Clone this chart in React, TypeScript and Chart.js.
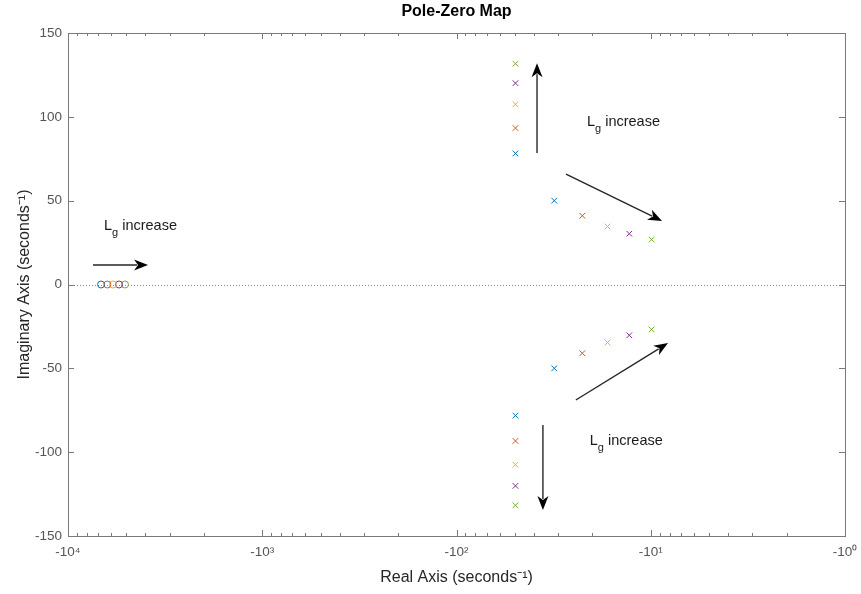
import React, { useEffect, useRef } from 'react';
import { Chart, registerables } from 'chart.js';

Chart.register(...registerables);

// ---- data ----
const seriesLabels = ['Lg 1', 'Lg 2', 'Lg 3', 'Lg 4', 'Lg 5'];
const seriesColors = ['#0072BD', '#D95319', '#EDB120', '#7E2F8E', '#77AC30'];
const verticalPoleRe = [-49.7, -49.7, -49.7, -49.7, -49.7];
const verticalPoleIm = [78.2, 93.3, 107.5, 120.1, 131.7];
const branchPoleRe = [-31.4, -22.5, -16.7, -12.9, -9.9];
const branchPoleIm = [50, 41, 34.6, 30.3, 26.8];
const zeroRe = [-6760, -6270, -5870, -5460, -5090];

const xTickExponents = [4, 3, 2, 1, 0];
const yTickValues = [-150, -100, -50, 0, 50, 100, 150];

// annotation arrows (real, imag)
const arrowFromRe = [-38.5, -27.3, -24.3, -35.9, -7436];
const arrowFromIm = [78.5, 65.9, -68.9, -83.8, 11.6];
const arrowToRe = [-38.5, -8.75, -8.15, -35.9, -3873];
const arrowToIm = [132, 37.9, -34.9, -134.5, 11.6];

// annotation texts (left edge, vertical centre)
const noteRe = [-21.3, -6530, -20.6];
const noteIm = [96.9, 34.9, -93.3];
const noteMain = 'L';
const noteSub = 'g';
const noteRest = ' increase';

const titleText = 'Pole-Zero Map';
const xTitle = 'Real Axis (seconds\u207B\u00B9)';
const yTitle = 'Imaginary Axis (seconds\u207B\u00B9)';

const SUP: Record<string, string> = { '0': '\u2070', '1': '\u00B9', '2': '\u00B2', '3': '\u00B3', '4': '\u2074' };
const toX = (re: number) => -Math.log10(-re);

const FONT = "'Liberation Sans', Arial, sans-serif";

const decorPlugin = {
  id: 'matlabDecor',
  beforeDatasetsDraw(chart: any) {
    const { ctx, chartArea, scales } = chart;
    const y0 = scales.y.getPixelForValue(0);
    ctx.save();
    ctx.strokeStyle = '#8a8a8a';
    ctx.lineWidth = 1;
    ctx.setLineDash([1, 2]);
    ctx.beginPath();
    ctx.moveTo(chartArea.left, Math.round(y0) + 0.5);
    ctx.lineTo(chartArea.right, Math.round(y0) + 0.5);
    ctx.stroke();
    ctx.restore();
  },
  afterDatasetsDraw(chart: any) {
    const { ctx, chartArea, scales } = chart;
    const { left, right, top, bottom } = chartArea;
    const xs = scales.x;
    const ys = scales.y;
    ctx.save();
    ctx.strokeStyle = '#7a7a7a';
    ctx.lineWidth = 1;
    ctx.strokeRect(Math.round(left) + 0.5, Math.round(top) + 0.5, Math.round(right - left), Math.round(bottom - top));
    ctx.beginPath();
    for (let i = 0; i < xTickExponents.length; i++) {
      const e = xTickExponents[i];
      const px = Math.round(xs.getPixelForValue(-e)) + 0.5;
      ctx.moveTo(px, bottom); ctx.lineTo(px, bottom - 6);
      ctx.moveTo(px, top); ctx.lineTo(px, top + 6);
      if (e > 0) {
        for (let k = 2; k <= 9; k++) {
          const v = -(e - 1 + Math.log10(k));
          const mx = Math.round(xs.getPixelForValue(v)) + 0.5;
          ctx.moveTo(mx, bottom); ctx.lineTo(mx, bottom - 3);
          ctx.moveTo(mx, top); ctx.lineTo(mx, top + 3);
        }
      }
    }
    for (const v of yTickValues) {
      const py = Math.round(ys.getPixelForValue(v)) + 0.5;
      ctx.moveTo(left, py); ctx.lineTo(left + 6, py);
      ctx.moveTo(right, py); ctx.lineTo(right - 6, py);
    }
    ctx.stroke();
    ctx.restore();
  },
  afterDraw(chart: any) {
    const { ctx, scales } = chart;
    const xs = scales.x;
    const ys = scales.y;
    ctx.save();
    for (let i = 0; i < arrowFromRe.length; i++) {
      const x1 = xs.getPixelForValue(toX(arrowFromRe[i]));
      const y1 = ys.getPixelForValue(arrowFromIm[i]);
      const x2 = xs.getPixelForValue(toX(arrowToRe[i]));
      const y2 = ys.getPixelForValue(arrowToIm[i]);
      const ang = Math.atan2(y2 - y1, x2 - x1);
      const hl = 14;
      const hw = 5.5;
      const cx = Math.cos(ang), sy = Math.sin(ang);
      const bx = x2 - cx * (hl - 3);
      const by = y2 - sy * (hl - 3);
      ctx.strokeStyle = '#262626';
      ctx.lineWidth = 1.4;
      ctx.beginPath();
      ctx.moveTo(x1, y1);
      ctx.lineTo(bx, by);
      ctx.stroke();
      const backX = x2 - cx * hl, backY = y2 - sy * hl;
      ctx.fillStyle = '#000000';
      ctx.beginPath();
      ctx.moveTo(x2, y2);
      ctx.lineTo(backX - sy * hw, backY + cx * hw);
      ctx.lineTo(x2 - cx * (hl - 4), y2 - sy * (hl - 4));
      ctx.lineTo(backX + sy * hw, backY - cx * hw);
      ctx.closePath();
      ctx.fill();
    }
    ctx.fillStyle = '#1a1a1a';
    ctx.textBaseline = 'middle';
    ctx.textAlign = 'left';
    for (let i = 0; i < noteRe.length; i++) {
      let x = xs.getPixelForValue(toX(noteRe[i]));
      const y = ys.getPixelForValue(noteIm[i]);
      ctx.font = `14.5px ${FONT}`;
      ctx.fillText(noteMain, x, y);
      x += ctx.measureText(noteMain).width;
      ctx.font = `11px ${FONT}`;
      ctx.fillText(noteSub, x, y + 7);
      x += ctx.measureText(noteSub).width;
      ctx.font = `14.5px ${FONT}`;
      ctx.fillText(noteRest, x, y);
    }
    ctx.restore();
  },
};

export default function App() {
  const ref = useRef<HTMLCanvasElement | null>(null);
  useEffect(() => {
    document.body.style.margin = '0';
    const canvas = ref.current;
    if (!canvas) return;

    const datasets: any[] = [];
    for (let i = 0; i < seriesLabels.length; i++) {
      datasets.push({
        label: seriesLabels[i] + ' poles',
        data: [
          { x: toX(verticalPoleRe[i]), y: verticalPoleIm[i] },
          { x: toX(verticalPoleRe[i]), y: -verticalPoleIm[i] },
          { x: toX(branchPoleRe[i]), y: branchPoleIm[i] },
          { x: toX(branchPoleRe[i]), y: -branchPoleIm[i] },
        ],
        pointStyle: 'crossRot',
        pointRadius: 4,
        pointBorderWidth: 1,
        borderColor: seriesColors[i],
        backgroundColor: seriesColors[i],
        showLine: false,
      });
    }
    for (let i = 0; i < seriesLabels.length; i++) {
      datasets.push({
        label: seriesLabels[i] + ' zeros',
        data: [{ x: toX(zeroRe[i]), y: 0 }],
        pointStyle: 'circle',
        pointRadius: 3.5,
        pointBorderWidth: 1,
        borderColor: seriesColors[i],
        backgroundColor: 'rgba(0,0,0,0)',
        showLine: false,
      });
    }

    const chart = new Chart(canvas, {
      type: 'scatter',
      data: { datasets },
      options: {
        responsive: false,
        animation: false,
        layout: { padding: { left: 0, right: 16, top: 0, bottom: 0 } },
        plugins: {
          legend: { display: false },
          tooltip: { enabled: false },
          title: {
            display: true,
            text: titleText,
            fullSize: false,
            color: '#000000',
            font: { family: FONT, size: 16, weight: 'bold' },
            padding: { top: 1.5, bottom: 12.3 },
          },
        },
        scales: {
          x: {
            type: 'linear',
            min: -4,
            max: 0,
            grid: { display: false, drawTicks: false },
            border: { display: false },
            afterBuildTicks: (scale: any) => {
              scale.ticks = xTickExponents.map((e) => ({ value: -e }));
            },
            afterFit: (scale: any) => {
              scale.height = 58;
              scale.paddingLeft = 0;
              scale.paddingRight = 0;
            },
            ticks: {
              padding: 8,
              color: '#555555',
              font: { family: FONT, size: 13.5 },
              maxRotation: 0,
              autoSkip: false,
              callback: (v: any) => '-10' + SUP[String(Math.round(-Number(v)))],
            },
            title: {
              display: true,
              text: xTitle,
              color: '#262626',
              font: { family: FONT, size: 16 },
              padding: { top: 0, bottom: 6.4 },
            },
          },
          y: {
            type: 'linear',
            min: -150,
            max: 150,
            grid: { display: false, drawTicks: false },
            border: { display: false },
            afterBuildTicks: (scale: any) => {
              scale.ticks = yTickValues.map((v) => ({ value: v }));
            },
            afterFit: (scale: any) => {
              scale.width = 68;
              scale.paddingTop = 0;
              scale.paddingBottom = 0;
            },
            ticks: {
              padding: 6,
              color: '#555555',
              font: { family: FONT, size: 13.5 },
              autoSkip: false,
            },
            title: {
              display: true,
              text: yTitle,
              color: '#262626',
              font: { family: FONT, size: 16 },
              padding: { top: 15.4, bottom: 0 },
            },
          },
        },
      },
      plugins: [decorPlugin],
    } as any);
    return () => chart.destroy();
  }, []);

  return <canvas ref={ref} width={861} height={594} style={{ display: 'block' }} />;
}
